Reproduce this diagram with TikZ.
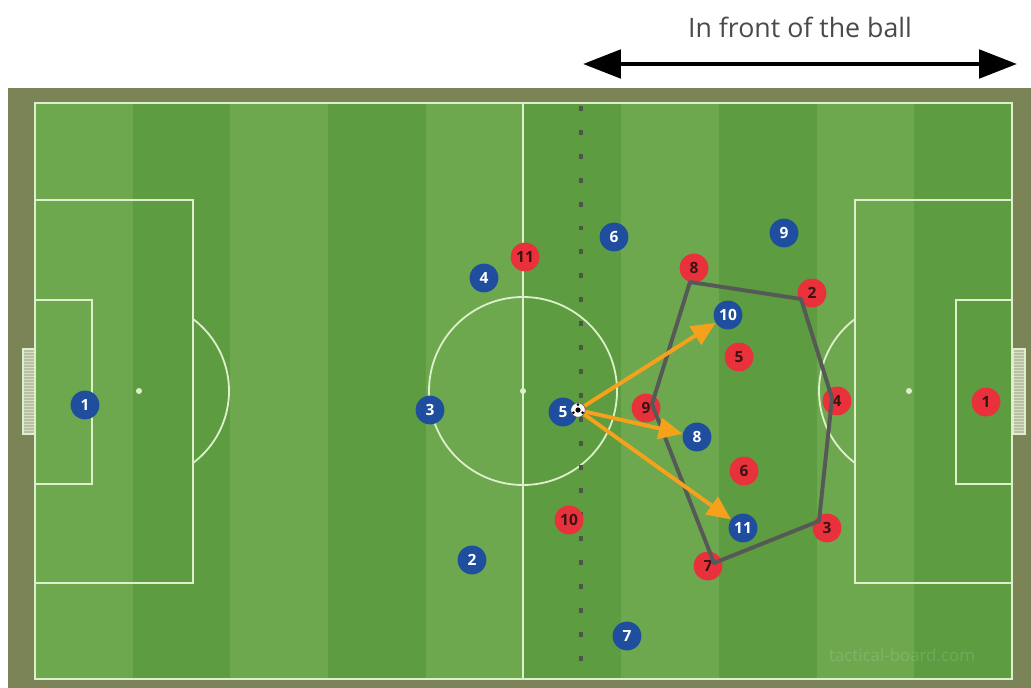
\documentclass[tikz,border=0pt]{standalone}
\usepackage{fontspec}
\setmainfont{Open Sans}
\setsansfont{Open Sans}
\usetikzlibrary{arrows.meta, calc}

\begin{document}
\begin{tikzpicture}[
    x=0.025cm, y=-0.025cm,
    every node/.style={font=\sffamily},
    player/.style={circle, minimum size=0.72cm, inner sep=0pt,
        font=\sffamily\bfseries\fontsize{11}{12}\selectfont},
    blueplayer/.style={player, fill=c1, text=white},
    redplayer/.style={player, fill=c2, text=redtext},
    pitchline/.style={draw=lines, line width=1.3pt},
    pass/.style={passcolor, line width=2.8pt, -{Triangle[length=17pt, width=15pt]}},
    ballstyle/.style={circle, fill=white, draw=black!70, line width=0.4pt,
        minimum size=0.36cm, inner sep=0pt},
]

\definecolor{pitchlight}{HTML}{6DA84F}
\definecolor{pitchdark}{HTML}{5D9C41}
\definecolor{surround}{HTML}{7A8457}
\definecolor{lines}{HTML}{DDEFCB}
\definecolor{netcolor}{HTML}{B9C2A0}
\definecolor{c1}{HTML}{1F4E9E}   % blue team
\definecolor{c2}{HTML}{E8313A}   % red team
\definecolor{redtext}{HTML}{3A1414}
\definecolor{passcolor}{HTML}{F5A11C}
\definecolor{shapecolor}{HTML}{565A56}
\definecolor{dotcolor}{HTML}{4B5548}
\definecolor{labelcolor}{HTML}{4A4A4A}

\def\sw{97.7}

% ================================================================
%   units are pixels of a 1031 x 688 sheet, y grows downwards
%   pitch lines (35,103) -- (1012,679), halfway x = 523
% ================================================================

\useasboundingbox (0,0) rectangle (1031,688);
\fill[white] (0,0) rectangle (1031,688);
\fill[surround] (8,88) rectangle (1031,688);

% ---------------------------------------------------------------- stripes
\foreach \i/\col in {0/pitchlight, 1/pitchdark, 2/pitchlight, 3/pitchdark,
    4/pitchlight, 5/pitchdark, 6/pitchlight, 7/pitchdark, 8/pitchlight, 9/pitchdark} {
  \fill[\col] (35+\i*\sw, 103) rectangle ++(\sw, 576);
}

% ---------------------------------------------------------------- markings
\draw[pitchline] (35,103) rectangle (1012,679);
\draw[pitchline] (523,103) -- (523,679);
\draw[pitchline] (523,391) circle[radius=94];
\fill[lines] (523,391) circle[radius=3];

\draw[pitchline] (35,200) rectangle (193,583);
\draw[pitchline] (35,300) rectangle (92,484);
\draw[pitchline] (855,200) rectangle (1012,583);
\draw[pitchline] (956,300) rectangle (1012,484);
\fill[lines] (139,391) circle[radius=3];
\fill[lines] (909,391) circle[radius=3];

\begin{scope}
  \clip (193,103) rectangle (300,679);
  \draw[pitchline] (139,391) circle[radius=90];
\end{scope}
\begin{scope}
  \clip (760,103) rectangle (855,679);
  \draw[pitchline] (909,391) circle[radius=90];
\end{scope}

% goal nets
\foreach \xa in {23,1013} {
  \fill[netcolor] (\xa,349) rectangle ++(12,85);
  \foreach \yy in {352,355,...,432}
    \draw[white, opacity=0.45, line width=0.3pt] (\xa,\yy) -- ++(12,0);
  \draw[lines, line width=0.8pt] (\xa,349) rectangle ++(12,85);
}

% ---------------------------------------------------------------- ball line
\draw[dotcolor, line width=3pt, dash pattern=on 3.5pt off 13.5pt]
    (581,106) -- (581,679);

% ---------------------------------------------------------------- players
\foreach \n/\px/\py in {1/986/402, 2/812/293, 3/827/528, 4/837/401,
    5/739/357, 6/744/471, 7/708/566, 8/694/268, 9/646/408,
    10/569/520, 11/525/257} {
  \node[redplayer] (red\n) at (\px,\py) {\n};
}

\foreach \n/\px/\py in {1/85/405, 2/472/560, 3/430/410, 4/484/278,
    5/563/412, 6/614/237, 7/627/636, 8/697/437, 9/784/233,
    10/728/315, 11/743/528} {
  \node[blueplayer] (b\n) at (\px,\py) {\n};
}

% ---------------------------------------------------------------- red block
% corners sit a little off the player centres, on top of the discs
\coordinate (v8) at (690,282);
\coordinate (v2) at (801,299);
\coordinate (v4) at (832,398);
\coordinate (v3) at (819,521);
\coordinate (v7) at (714,563);
\coordinate (v9) at (652,404);
\draw[shapecolor, line width=2.8pt, line join=round]
    (v8) -- (v2) -- (v4) -- (v3) -- (v7) -- (v9) -- cycle;

% ---------------------------------------------------------------- ball, passes
\node[ballstyle] (ball) at (578,410) {};
\fill[black] (ball.center) circle[radius=2.6];
\foreach \a in {90,210,330}
  \fill[black] ($(ball.center)!0.72!(ball.\a)$) circle[radius=1.5];

\draw[pass] (ball) -- (b10);
\draw[pass] (ball) -- (b8);
\draw[pass] (ball) -- (b11);

% ---------------------------------------------------------------- header
\node[text=labelcolor, font=\sffamily\fontsize{19}{22}\selectfont]
    (frontlbl) at (800,27) {In front of the ball};
\coordinate (frontL) at (583,64);
\coordinate (frontR) at (1017,64);
\draw[{Triangle[length=27pt, width=20pt]}-{Triangle[length=27pt, width=20pt]},
    line width=3.5pt] (frontL) -- (frontR);

\node[text=white, opacity=0.13, font=\sffamily\fontsize{12}{14}\selectfont]
    (mark) at (902,655) {tactical-board.com};

\end{tikzpicture}
\end{document}
